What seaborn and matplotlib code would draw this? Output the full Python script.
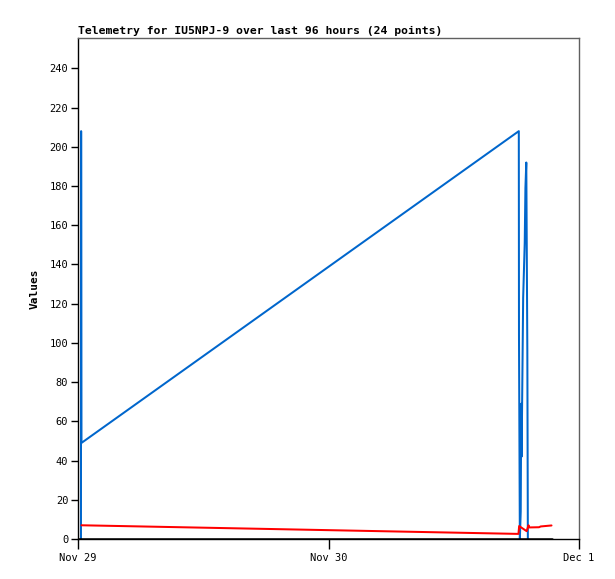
import pandas as pd
import numpy as np
import matplotlib
matplotlib.use("Agg")
import matplotlib.pyplot as plt
import matplotlib.dates as mdates
import seaborn as sns

# ---- data ----
blue_time = ["2024-11-29 00:17", "2024-11-29 00:18", "2024-11-29 00:20",
             "2024-11-30 18:14", "2024-11-30 18:15", "2024-11-30 18:20",
             "2024-11-30 18:25", "2024-11-30 18:28", "2024-11-30 18:30",
             "2024-11-30 18:39", "2024-11-30 18:48", "2024-11-30 18:52",
             "2024-11-30 18:57", "2024-11-30 19:03", "2024-11-30 19:06"]
blue_vals = [0, 208, 49, 208, 104, 0, 14, 69, 42, 123, 151, 179, 192, 96, 0]

red_time = ["2024-11-29 00:20", "2024-11-30 18:12", "2024-11-30 18:16",
            "2024-11-30 18:59", "2024-11-30 19:10", "2024-11-30 19:14",
            "2024-11-30 20:10", "2024-11-30 20:20", "2024-11-30 21:22"]
red_vals = [7.0, 2.6, 6.6, 4.0, 7.0, 5.9, 6.0, 6.4, 6.9]

black_time = ["2024-11-29 00:00", "2024-11-30 21:25"]
black_vals = [0, 0]

title = "Telemetry for IU5NPJ-9 over last 96 hours (24 points)"

blue = pd.DataFrame({"time": pd.to_datetime(blue_time), "value": blue_vals})
red = pd.DataFrame({"time": pd.to_datetime(red_time), "value": red_vals})
black = pd.DataFrame({"time": pd.to_datetime(black_time), "value": black_vals})

sns.set_style("white")
plt.rcParams["font.family"] = ["DejaVu Sans Mono"]
plt.rcParams["text.color"] = "black"
plt.rcParams["axes.labelcolor"] = "black"

fig = plt.figure(figsize=(6.15, 5.79), dpi=100)
ax = fig.add_axes([78 / 615, 40 / 579, 501 / 615, 501 / 579])

sns.lineplot(data=blue, x="time", y="value", ax=ax, estimator=None, sort=False,
             color="#0066cc", linewidth=1.45)
sns.lineplot(data=red, x="time", y="value", ax=ax, estimator=None, sort=False,
             color="#ff0000", linewidth=1.45)
sns.lineplot(data=black, x="time", y="value", ax=ax, estimator=None, sort=False,
             color="black", linewidth=1.8)

ax.set_xlim(pd.Timestamp("2024-11-29"), pd.Timestamp("2024-12-01"))
ax.set_ylim(0, 255.5)
ax.set_yticks(np.arange(0, 241, 20))
ax.xaxis.set_major_locator(mdates.DayLocator())
ax.xaxis.set_major_formatter(plt.FuncFormatter(
    lambda v, p: mdates.num2date(v).strftime("%b ") + str(mdates.num2date(v).day)))

ax.tick_params(axis="both", direction="out", length=5, width=1, colors="black",
               labelsize=7.5, left=True, bottom=True)
ax.tick_params(axis="y", pad=2)
ax.tick_params(axis="x", length=7, pad=3)
for s in ["top", "right"]:
    ax.spines[s].set_color("#606060")
    ax.spines[s].set_linewidth(1)
for s in ["left", "bottom"]:
    ax.spines[s].set_color("black")
    ax.spines[s].set_linewidth(1)

ax.set_xlabel("")
ax.set_ylabel("Values", fontsize=8, fontweight="bold", labelpad=7)
ax.set_title(title, loc="left", fontsize=8.2, fontweight="bold", pad=3)

fig.savefig("out.png", dpi=100)
